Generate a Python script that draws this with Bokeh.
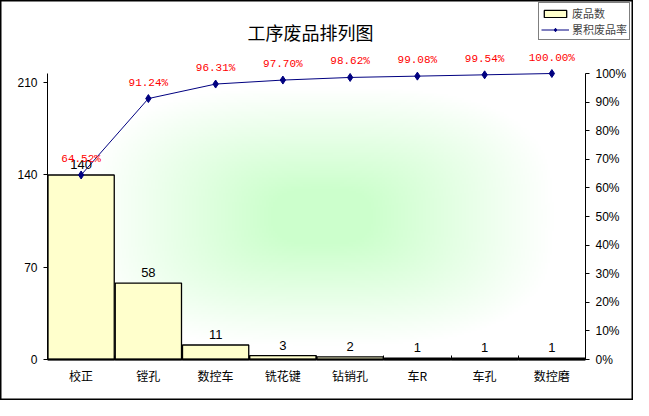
import numpy as np
from bokeh.plotting import figure
from bokeh.models import (Range1d, LinearAxis, FixedTicker, NumeralTickFormatter,
                          ColumnDataSource, LabelSet, Label, Legend, LegendItem)
from bokeh.core.properties import value
from bokeh.embed import file_html
from bokeh.resources import INLINE

# ---- data ----
categories = ["校正", "镗孔", "数控车", "铣花键", "钻销孔", "车R", "车孔", "数控磨"]
counts = [140, 58, 11, 3, 2, 1, 1, 1]
cum_pct = [0.6452, 0.9124, 0.9631, 0.9770, 0.9862, 0.9908, 0.9954, 1.0000]
cum_labels = ["64.52%", "91.24%", "96.31%", "97.70%", "98.62%", "99.08%", "99.54%", "100.00%"]
count_ticks = [0, 70, 140, 210]
pct_ticks = [0, 0.1, 0.2, 0.3, 0.4, 0.5, 0.6, 0.7, 0.8, 0.9, 1.0]
count_max = 217
title_text = "工序废品排列图"
series_names = ["废品数", "累积废品率"]

n = len(categories)
xc = np.arange(n) + 0.5

# ---- layout (pixels inside the figure; the frame covers the whole figure) ----
W_FIG, H_FIG = 633, 400
left_px, right_px = 47, 585     # plot area horizontal extent
zero_px, full_px = 359, 73      # pixel rows of 0 and of 100%
plot_w = right_px - left_px
span_h = zero_px - full_px
xlo = -left_px / plot_w * n
xhi = (W_FIG - left_px) / plot_w * n
lo = -(H_FIG - zero_px) / span_h
hi = zero_px / span_h

p = figure(width=W_FIG, height=H_FIG, output_backend="svg", toolbar_location=None,
           x_range=Range1d(xlo, xhi), y_range=Range1d(lo * count_max, hi * count_max),
           min_border_left=0, min_border_right=0, min_border_top=0,
           min_border_bottom=0, x_axis_type=None, y_axis_type=None,
           background_fill_color="white", border_fill_color="white")
p.outline_line_color = "black"
p.outline_line_width = 2
p.grid.visible = False
p.extra_y_ranges = {"pct": Range1d(lo, hi)}

# background gradient (plot area)
H, W = 160, 300
u = np.linspace(-1, 1, W)[None, :] - 0.02
v = np.linspace(-1, 1, H)[:, None]
d = ((np.abs(u) / 0.86) ** 3 + (np.abs(v) / 0.9) ** 3) ** (1 / 3)
t = np.clip((d - 0.2) / (1 - 0.2), 0, 1)
img = np.zeros((H, W), dtype=np.uint32)
view = img.view(dtype=np.uint8).reshape((H, W, 4))
view[:, :, 0] = (204 + 51 * t).astype(np.uint8)
view[:, :, 1] = 255
view[:, :, 2] = (204 + 51 * t).astype(np.uint8)
view[:, :, 3] = 255
p.image_rgba(image=[img], x=0, y=0, dw=n, dh=count_max)

src = ColumnDataSource(dict(x=xc, counts=counts, cnt_lbl=[str(c) for c in counts],
                            pct=cum_pct, pct_lbl=cum_labels))

bars = p.vbar(x="x", top="counts", width=0.985, source=src, fill_color="#FFFFCC",
              line_color="black", line_width=1.3)
ln = p.line(x="x", y="pct", source=src, y_range_name="pct", line_color="#000080", line_width=1)
mk = p.scatter(x="x", y="pct", source=src, y_range_name="pct", marker="diamond", size=8,
               fill_color="#000080", line_color="#000080")

p.add_layout(LabelSet(x="x", y="counts", text="cnt_lbl", source=src, text_align="center",
                      text_baseline="bottom", y_offset=6, text_font=value("Liberation Sans"),
                      text_font_size=value("13px"), text_color="black"))
p.add_layout(LabelSet(x="x", y="pct", text="pct_lbl", source=src, y_range_name="pct",
                      text_align="center", text_baseline="bottom", y_offset=10,
                      text_font=value("Liberation Mono"), text_font_size=value("11px"),
                      text_color="red"))

# title (screen units relative to the frame's bottom-left)
p.add_layout(Label(x=310, y=H_FIG - 31, x_units="screen", y_units="screen",
                   text=title_text, text_align="center", text_baseline="middle",
                   text_font="Noto Sans CJK SC", text_font_size="18px", text_color="black"))

# axes
xa = LinearAxis(ticker=FixedTicker(ticks=list(xc), minor_ticks=list(range(n + 1))),
                major_label_overrides={float(x): c for x, c in zip(xc, categories)},
                bounds=(0, n), fixed_location=0)
xa.major_tick_in = 0
xa.major_tick_out = 0
xa.minor_tick_in = 4
xa.minor_tick_out = 0
xa.axis_line_width = 2
xa.major_label_standoff = 7
xa.major_label_text_font = "Noto Sans CJK SC"
xa.major_label_text_font_size = "12px"
xa.major_label_text_color = "black"
p.add_layout(xa, "below")

ya = LinearAxis(ticker=FixedTicker(ticks=count_ticks), bounds=(0, count_max),
                fixed_location=0)
ya.major_tick_in = 0
ya.major_tick_out = 4
ya.minor_tick_line_color = None
ya.major_label_standoff = 6
ya.major_label_text_font = "Liberation Sans"
ya.major_label_text_font_size = "12px"
ya.major_label_text_color = "black"
p.add_layout(ya, "left")

ra = LinearAxis(y_range_name="pct", ticker=FixedTicker(ticks=pct_ticks),
                formatter=NumeralTickFormatter(format="0%"), bounds=(0, 1),
                fixed_location=n)
ra.major_tick_in = 0
ra.major_tick_out = 4
ra.minor_tick_line_color = None
ra.major_label_standoff = 6
ra.major_label_text_font = "Liberation Sans"
ra.major_label_text_font_size = "12px"
ra.major_label_text_color = "black"
p.add_layout(ra, "right")

legend = Legend(items=[LegendItem(label=series_names[0], renderers=[bars]),
                       LegendItem(label=series_names[1], renderers=[ln, mk])],
                location=(538, H_FIG - 40), orientation="vertical")
legend.label_text_font = "Noto Sans CJK SC"
legend.label_text_font_size = "11px"
legend.glyph_width = 28
legend.glyph_height = 9
legend.label_height = 11
legend.label_standoff = 3
legend.spacing = 0
legend.padding = 2
legend.margin = 0
legend.border_line_color = "black"
legend.border_line_width = 1
legend.background_fill_color = "white"
legend.background_fill_alpha = 1
p.add_layout(legend, "center")

open("out.html", "w").write(file_html(p, INLINE))
